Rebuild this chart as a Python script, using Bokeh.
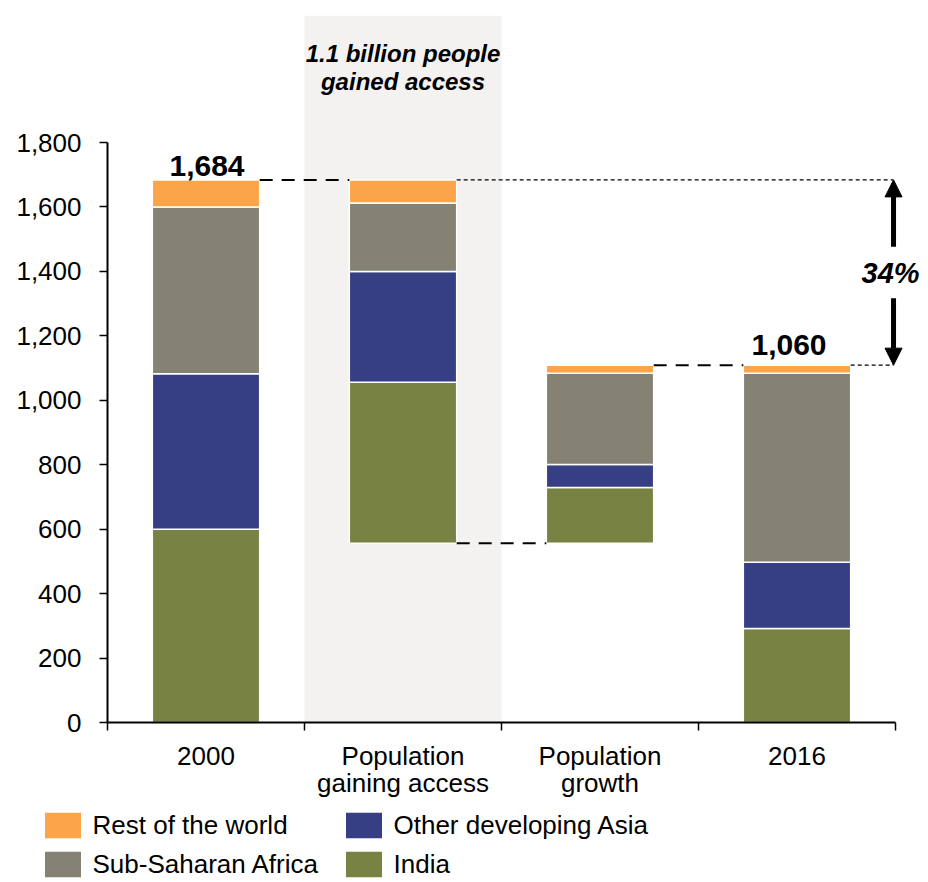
from bokeh.plotting import figure
from bokeh.layouts import column
from bokeh.models import (Range1d, FixedTicker, NumeralTickFormatter, BoxAnnotation,
                          Legend, LegendItem, Arrow, NormalHead, ColumnDataSource)
from bokeh.core.properties import value
from bokeh.embed import file_html
from bokeh.resources import INLINE

# ---------------- data ----------------
categories = ["2000", "Population\ngaining access", "Population\ngrowth", "2016"]
series_names = ["India", "Other developing Asia", "Sub-Saharan Africa", "Rest of the world"]
india = [600, 500, 173, 292]
other_asia = [482, 344, 72, 205]
sub_saharan = [518, 212, 283, 587]
rest_world = [84, 72, 25, 25]
series_colors = ["#788242", "#363F84", "#858273", "#FBA44A"]
y_ticks = [0, 200, 400, 600, 800, 1000, 1200, 1400, 1600, 1800]
total_labels = ["1,684", "1,060"]
band_text = ["1.1 billion people", "gained access"]
change_label = "34%"
legend_order = ["Rest of the world", "Sub-Saharan Africa", "Other developing Asia", "India"]

# ---------------- layout constants ----------------
FONT = "Liberation Sans"
W = 920
H1, H2 = 806, 74
LEFT, TOP, BOTTOM = 107, 15, 84
PX_PER_CAT = 197.0
PX_PER_UNIT = 580.0 / 1800.0
frame_w = W - LEFT
frame_h = H1 - TOP - BOTTOM
x_end = frame_w / PX_PER_CAT
y_end = frame_h / PX_PER_UNIT
BAR_W = 0.545
hw = BAR_W / 2
ARROW_X = 3.99

series = [india, other_asia, sub_saharan, rest_world]
n = len(categories)
xs = [i + 0.5 for i in range(n)]
totals = [sum(s[i] for s in series) for i in range(n)]
# waterfall bases: gain hangs from the 2000 total, growth starts at its bottom
gain_base = totals[0] - totals[1]
bases = [0, gain_base, gain_base, 0]
growth_top = bases[2] + totals[2]

p = figure(width=W, height=H1, x_range=Range1d(0, x_end), y_range=Range1d(0, y_end),
           output_backend="svg", toolbar_location=None,
           min_border_left=LEFT, min_border_right=0, min_border_top=TOP,
           min_border_bottom=BOTTOM)
p.frame_align = False
p.grid.visible = False
p.outline_line_color = None
p.background_fill_color = "white"

# legend strip below the chart
p2 = figure(width=W, height=H2, x_range=Range1d(0, x_end), y_range=Range1d(0, y_end),
            output_backend="svg", toolbar_location=None,
            x_axis_location=None, y_axis_location=None, min_border=0)
p2.frame_align = False
p2.grid.visible = False
p2.outline_line_color = None

# shaded band behind "Population gaining access"
p.add_layout(BoxAnnotation(left=1, right=2, fill_color="#F3F2F0", fill_alpha=1.0,
                           line_color=None, level="underlay"))

# ---------------- bars ----------------
legend_proxy = {}
cum = list(bases)
for name, vals, col in zip(series_names, series, series_colors):
    bottoms = list(cum)
    tops = [b + v for b, v in zip(bottoms, vals)]
    src = ColumnDataSource(dict(x=xs, bottom=bottoms, top=tops))
    p.vbar(x="x", width=BAR_W, bottom="bottom", top="top", source=src,
           fill_color=col, line_color="white", line_width=1.5)
    # hidden copy in the legend strip, used only for its legend swatch
    legend_proxy[name] = p2.vbar(x="x", width=BAR_W, bottom="bottom", top="top",
                                 source=src, fill_color=col, line_color=None,
                                 visible=False)
    cum = tops

# ---------------- connectors ----------------
p.segment(x0=[xs[0] + hw, xs[1] + hw, xs[2] + hw],
          x1=[xs[1] - hw, xs[2] - hw, xs[3] - hw],
          y0=[totals[0], bases[1], growth_top],
          y1=[totals[0], bases[1], growth_top],
          line_color="black", line_width=2, line_dash="13 9")
p.segment(x0=[xs[1] + hw, xs[3] + hw], x1=[ARROW_X, ARROW_X],
          y0=[totals[0], totals[3]], y1=[totals[0], totals[3]],
          line_color="black", line_width=1.3, line_dash="4 3")

# ---------------- labels ----------------
p.text(x=[xs[0], xs[3]], y=[totals[0], totals[3]], text=total_labels,
       x_offset=[1, -8], y_offset=[-14, -20],
       text_font=value(FONT), text_font_style="bold", text_font_size="30px",
       text_align="center", text_baseline="alphabetic", text_color="black")

p.text(x=[xs[1], xs[1]], y=[2076, 1989], text=band_text,
       text_font=value(FONT), text_font_style="bold italic", text_font_size="24px",
       text_align="center", text_baseline="alphabetic", text_color="black")

mid = (totals[0] + totals[3]) / 2
gap = 80
head_kw = dict(size=17, fill_color="black", line_color="black")
p.add_layout(Arrow(end=NormalHead(**head_kw), x_start=ARROW_X, y_start=mid + gap,
                   x_end=ARROW_X, y_end=totals[0], line_width=5, line_color="black"))
p.add_layout(Arrow(end=NormalHead(**head_kw), x_start=ARROW_X, y_start=mid - gap,
                   x_end=ARROW_X, y_end=totals[3], line_width=5, line_color="black"))
p.text(x=[ARROW_X], y=[mid], text=[change_label], x_offset=-3,
       text_font=value(FONT), text_font_style="bold italic", text_font_size="29px",
       text_align="center", text_baseline="middle", text_color="black")

# ---------------- axes ----------------
xa = p.xaxis[0]
xa.ticker = FixedTicker(ticks=xs, minor_ticks=[0, 1, 2, 3, 4])
xa.major_label_overrides = {x: c for x, c in zip(xs, categories)}
xa.bounds = (0, n)
xa.major_tick_in = 0
xa.major_tick_out = 0
xa.minor_tick_in = 0
xa.minor_tick_out = 8
xa.minor_tick_line_color = "black"
xa.minor_tick_line_width = 1.5
xa.axis_line_color = "black"
xa.axis_line_width = 2
xa.major_label_standoff = 10
xa.major_label_text_font = FONT
xa.major_label_text_font_size = "26px"
xa.major_label_text_color = "black"
xa.major_label_text_line_height = 0.9

ya = p.yaxis[0]
ya.ticker = FixedTicker(ticks=y_ticks, minor_ticks=[])
ya.formatter = NumeralTickFormatter(format="0,0")
ya.bounds = (0, 1800)
ya.major_tick_in = 0
ya.major_tick_out = 8
ya.major_tick_line_color = "black"
ya.major_tick_line_width = 1.5
ya.axis_line_color = "black"
ya.axis_line_width = 2
ya.major_label_standoff = 18
ya.major_label_text_font = FONT
ya.major_label_text_font_size = "26px"
ya.major_label_text_color = "black"

# ---------------- legend ----------------
legend = Legend(items=[LegendItem(label=nm, renderers=[legend_proxy[nm]]) for nm in legend_order],
                location=(39.5, 0), orientation="vertical", nrows=2,
                label_text_font=FONT, label_text_font_size="26px", label_text_color="black",
                glyph_width=45, glyph_height=32, label_height=32, label_standoff=8,
                spacing=7, label_width=241, padding=0, margin=0,
                inactive_fill_alpha=0.0,
                border_line_color=None, background_fill_alpha=0)
p2.add_layout(legend)

layout = column(p, p2, spacing=0)
open("out.html", "w").write(file_html(layout, INLINE))
